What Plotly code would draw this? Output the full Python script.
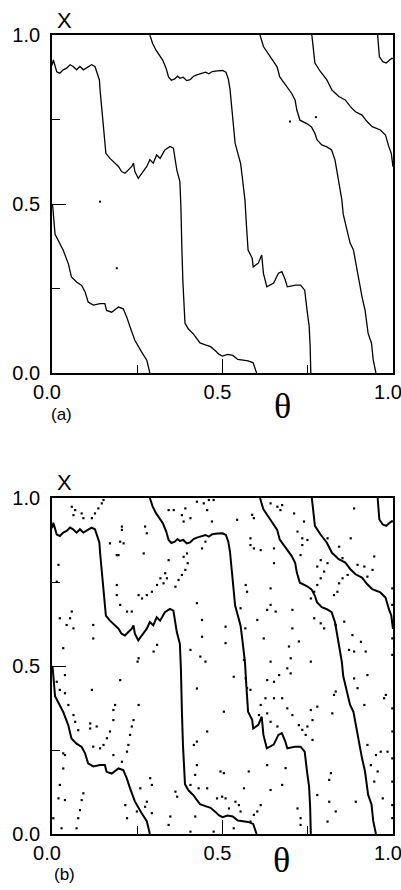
import plotly.graph_objects as go

# ---------------- data (theta, X) ----------------
A_T = [0.0, 0.004, 0.014, 0.023, 0.033, 0.043, 0.053, 0.062, 0.072, 0.082, 0.092, 0.107, 0.116, 0.126,
       0.131, 0.139, 0.141, 0.146, 0.151, 0.158, 0.17, 0.185, 0.195, 0.204, 0.214, 0.224, 0.234, 0.239,
       0.243, 0.253, 0.263, 0.278, 0.287, 0.297, 0.307, 0.317, 0.331, 0.346, 0.356, 0.366, 0.375, 0.376,
       0.378, 0.381, 0.384, 0.39, 0.40, 0.415, 0.434, 0.45, 0.465, 0.48, 0.49, 0.50, 0.515, 0.53, 0.545,
       0.56, 0.575, 0.59, 0.60]
A_X = [0.91, 0.926, 0.891, 0.887, 0.897, 0.902, 0.912, 0.907, 0.897, 0.907, 0.897, 0.907, 0.912, 0.907,
       0.891, 0.867, 0.837, 0.778, 0.709, 0.65, 0.635, 0.621, 0.611, 0.596, 0.591, 0.601, 0.611, 0.621,
       0.596, 0.576, 0.591, 0.611, 0.631, 0.621, 0.645, 0.635, 0.66, 0.67, 0.665, 0.601, 0.566, 0.512,
       0.492, 0.364, 0.266, 0.148, 0.13, 0.115, 0.089, 0.083, 0.078, 0.065, 0.055, 0.05, 0.055, 0.052,
       0.04, 0.038, 0.036, 0.03, 0.0]

B_T = [0.0, 0.002, 0.009, 0.019, 0.033, 0.048, 0.057, 0.072, 0.087, 0.097, 0.106, 0.121, 0.141, 0.155,
       0.16, 0.175, 0.195, 0.209, 0.219, 0.229, 0.243, 0.263, 0.278, 0.287]
B_X = [0.5, 0.494, 0.41, 0.392, 0.363, 0.323, 0.284, 0.269, 0.259, 0.24, 0.21, 0.201, 0.205, 0.205,
       0.185, 0.18, 0.195, 0.19, 0.166, 0.136, 0.097, 0.062, 0.038, 0.0]

C_T = [0.287, 0.295, 0.305, 0.315, 0.325, 0.335, 0.342, 0.35, 0.36, 0.368, 0.375, 0.385, 0.395, 0.405,
       0.415, 0.425, 0.44, 0.45, 0.46, 0.47, 0.485, 0.5, 0.51, 0.517, 0.522, 0.527, 0.532, 0.537, 0.545,
       0.553, 0.558, 0.562, 0.566, 0.57, 0.575, 0.587, 0.59, 0.605, 0.615, 0.62, 0.63, 0.65, 0.664,
       0.674, 0.684, 0.69, 0.714, 0.729, 0.741, 0.749, 0.754, 0.757, 0.759]
C_X = [1.0, 0.975, 0.955, 0.94, 0.925, 0.9, 0.875, 0.866, 0.87, 0.878, 0.872, 0.875, 0.865, 0.868,
       0.878, 0.882, 0.886, 0.89, 0.885, 0.892, 0.894, 0.895, 0.89, 0.87, 0.84, 0.78, 0.72, 0.68, 0.65,
       0.62, 0.58, 0.54, 0.51, 0.44, 0.364, 0.34, 0.314, 0.325, 0.349, 0.295, 0.255, 0.266, 0.295,
       0.30, 0.276, 0.255, 0.26, 0.26, 0.245, 0.177, 0.14, 0.08, 0.0]

D_T = [0.61, 0.62, 0.64, 0.66, 0.668, 0.69, 0.703, 0.713, 0.718, 0.727, 0.747, 0.761, 0.771, 0.777,
       0.791, 0.806, 0.82, 0.83, 0.84, 0.85, 0.854, 0.864, 0.874, 0.884, 0.894, 0.899, 0.909, 0.918,
       0.927, 0.937, 0.942, 0.95]
D_X = [1.0, 0.966, 0.936, 0.906, 0.876, 0.847, 0.827, 0.807, 0.778, 0.748, 0.738, 0.728, 0.709, 0.69,
       0.675, 0.669, 0.66, 0.63, 0.571, 0.512, 0.47, 0.43, 0.385, 0.364, 0.305, 0.275, 0.226, 0.186,
       0.117, 0.088, 0.039, 0.0]

E_T = [0.762, 0.767, 0.771, 0.787, 0.806, 0.821, 0.841, 0.86, 0.875, 0.89, 0.909, 0.924, 0.939, 0.963,
       0.978, 0.988, 0.995, 1.0]
E_X = [1.0, 0.956, 0.917, 0.892, 0.867, 0.837, 0.818, 0.808, 0.788, 0.773, 0.763, 0.744, 0.729, 0.719,
       0.704, 0.669, 0.65, 0.61]

F_T = [0.955, 0.957, 0.96, 0.97, 0.98, 0.99, 0.997, 1.0]
F_X = [1.0, 0.956, 0.936, 0.921, 0.917, 0.926, 0.931, 0.93]

STRAY_A_T = [0.698, 0.774, 0.19, 0.141]
STRAY_A_X = [0.744, 0.757, 0.31, 0.507]

SCAT_B_T = [
    0.058, 0.068, 0.063, 0.087, 0.092, 0.117, 0.126, 0.136, 0.146, 0.151, 0.205, 0.205, 0.2, 0.21, 0.195,
    0.17, 0.269, 0.273, 0.278, 0.342, 0.357, 0.381, 0.391, 0.386, 0.406, 0.425, 0.445, 0.455, 0.46, 0.474,
    0.469, 0.45, 0.44, 0.396, 0.386, 0.342, 0.337, 0.327, 0.254, 0.264, 0.278, 0.293, 0.308, 0.318, 0.332,
    0.362, 0.371, 0.381, 0.391, 0.398, 0.19, 0.019, 0.014, 0.058, 0.053, 0.043, 0.063, 0.023, 0.033, 0.121,
    0.121, 0.19, 0.19, 0.2, 0.22, 0.234, 0.425, 0.44, 0.44, 0.435, 0.45, 0.406, 0.308, 0.298, 0.254, 0.251,
    0.543, 0.587, 0.592, 0.641, 0.661, 0.675, 0.67, 0.71, 0.739, 0.72, 0.734, 0.651, 0.582, 0.582, 0.592,
    0.612, 0.651, 0.568, 0.572, 0.641, 0.641, 0.656, 0.631, 0.602, 0.621, 0.567, 0.553, 0.509, 0.509,
    0.563, 0.641, 0.7, 0.695, 0.705, 0.705, 0.759, 0.769, 0.778, 0.788, 0.798, 0.808, 0.788, 0.778, 0.729,
    0.734, 0.749, 0.808, 0.842, 0.876, 0.886, 0.852, 0.867, 0.852, 0.842, 0.837, 0.827, 0.832, 0.857,
    0.881, 0.871, 0.886, 0.92, 0.906, 0.925, 0.94, 0.945, 0.916, 0.896, 0.769, 0.788, 0.798, 0.759, 0.724,
    0.998, 0.998, 0.998, 0.998, 0.998,
    0.014, 0.023, 0.038, 0.038, 0.048, 0.063, 0.068, 0.2, 0.117, 0.185, 0.18, 0.18, 0.254, 0.239, 0.234,
    0.229, 0.224, 0.22, 0.112, 0.112, 0.131, 0.077, 0.17, 0.161, 0.151, 0.121, 0.141, 0.18, 0.033, 0.038,
    0.033, 0.205, 0.023, 0.019, 0.038, 0.092, 0.087, 0.082, 0.077, 0.072, 0.028, 0.004, 0.259, 0.288,
    0.293, 0.278, 0.273, 0.293, 0.215, 0.22, 0.249, 0.342, 0.347, 0.362, 0.367, 0.425, 0.455, 0.425, 0.425,
    0.42, 0.416, 0.43, 0.406, 0.455, 0.484, 0.494, 0.42, 0.406, 0.474,
    0.533, 0.568, 0.572, 0.582, 0.631, 0.651, 0.666, 0.7, 0.69, 0.651, 0.675, 0.626, 0.612, 0.607, 0.631,
    0.641, 0.661, 0.705, 0.69, 0.724, 0.734, 0.759, 0.764, 0.749, 0.744, 0.764, 0.778, 0.504, 0.504,
    0.577, 0.631, 0.685, 0.675, 0.641, 0.612, 0.602, 0.592, 0.582, 0.553, 0.563, 0.538, 0.548, 0.499,
    0.509, 0.519, 0.533, 0.72, 0.729, 0.729, 0.778, 0.818, 0.813, 0.813, 0.808, 0.832, 0.827, 0.832,
    0.822, 0.886, 0.896, 0.925, 0.916, 0.925, 0.95, 0.955, 0.945, 0.97, 0.935, 0.891, 0.964, 0.974, 0.979,
    0.984, 0.998, 0.998, 0.998, 0.998, 0.998, 0.998]
SCAT_B_X = [
    0.974, 0.964, 0.949, 0.954, 0.94, 0.94, 0.954, 0.969, 0.984, 0.994, 0.915, 0.905, 0.87, 0.865, 0.83,
    0.865, 0.835, 0.915, 0.895, 0.964, 0.964, 0.949, 0.969, 0.93, 0.94, 0.989, 0.984, 0.964, 0.994, 0.994,
    0.93, 0.87, 0.85, 0.835, 0.825, 0.815, 0.761, 0.746, 0.711, 0.701, 0.711, 0.721, 0.741, 0.761, 0.776,
    0.736, 0.756, 0.771, 0.786, 0.806, 0.83, 0.801, 0.751, 0.662, 0.642, 0.622, 0.612, 0.642, 0.553, 0.622,
    0.582, 0.741, 0.711, 0.682, 0.662, 0.662, 0.687, 0.637, 0.587, 0.528, 0.513, 0.548, 0.563, 0.543,
    0.523, 0.513,
    0.935, 0.95, 0.94, 0.984, 0.974, 0.979, 0.964, 0.954, 0.93, 0.9, 0.88, 0.85, 0.88, 0.86, 0.85, 0.845,
    0.806, 0.741, 0.721, 0.731, 0.682, 0.662, 0.667, 0.637, 0.582, 0.612, 0.672, 0.617, 0.568, 0.518,
    0.513, 0.523, 0.558, 0.612, 0.667, 0.701, 0.721, 0.741, 0.761, 0.781, 0.806, 0.815, 0.796, 0.83, 0.86,
    0.875, 0.88, 0.855, 0.88, 0.969, 0.821, 0.771, 0.761, 0.746, 0.721, 0.711, 0.622, 0.632, 0.592, 0.548,
    0.543, 0.543, 0.572, 0.766, 0.786, 0.826, 0.796, 0.801, 0.642, 0.627, 0.612, 0.513, 0.573,
    0.731, 0.682, 0.632, 0.582, 0.533,
    0.453, 0.429, 0.419, 0.473, 0.384, 0.354, 0.334, 0.458, 0.429, 0.384, 0.369, 0.339, 0.384, 0.339, 0.32,
    0.295, 0.265, 0.245, 0.329, 0.314, 0.32, 0.309, 0.305, 0.285, 0.265, 0.26, 0.255, 0.235, 0.24, 0.235,
    0.195, 0.215, 0.146, 0.106, 0.101, 0.121, 0.101, 0.071, 0.047, 0.017, 0.017, 0.047, 0.136, 0.166,
    0.146, 0.096, 0.081, 0.062, 0.086, 0.047, 0.067, 0.027, 0.052, 0.126, 0.111, 0.433, 0.305, 0.275,
    0.205, 0.176, 0.265, 0.136, 0.146, 0.136, 0.106, 0.186, 0.052, 0.007, 0.007,
    0.468, 0.463, 0.434, 0.429, 0.458, 0.453, 0.473, 0.478, 0.493, 0.404, 0.404, 0.404, 0.384, 0.354,
    0.359, 0.334, 0.32, 0.354, 0.374, 0.324, 0.31, 0.369, 0.339, 0.32, 0.295, 0.28, 0.379, 0.364, 0.181,
    0.186, 0.205, 0.196, 0.146, 0.131, 0.086, 0.067, 0.057, 0.037, 0.067, 0.136, 0.096, 0.086, 0.111,
    0.106, 0.076, 0.017, 0.076, 0.047, 0.027, 0.116, 0.181, 0.161, 0.096, 0.037, 0.067, 0.414, 0.424,
    0.359, 0.463, 0.434, 0.473, 0.384, 0.265, 0.235, 0.186, 0.156, 0.106, 0.205, 0.096, 0.245, 0.404,
    0.414, 0.245, 0.374, 0.305, 0.225, 0.156, 0.086, 0.047]

TICK_VALS = [0.0, 0.5, 1.0]
TICK_TEXT = ["0.0", "0.5", "1.0"]

CURVES = [(A_T, A_X), (B_T, B_X), (C_T, C_X), (D_T, D_X), (E_T, E_X), (F_T, F_X)]

# ---------------- figure ----------------
fig = go.Figure()

for t, x in CURVES:
    fig.add_trace(go.Scatter(x=t, y=x, mode="lines", line=dict(color="black", width=1.3),
                             xaxis="x", yaxis="y", showlegend=False, hoverinfo="skip"))
fig.add_trace(go.Scatter(x=STRAY_A_T, y=STRAY_A_X, mode="markers",
                         marker=dict(color="black", size=2, symbol="square"),
                         xaxis="x", yaxis="y", showlegend=False, hoverinfo="skip"))

for t, x in CURVES:
    fig.add_trace(go.Scatter(x=t, y=x, mode="lines", line=dict(color="black", width=2.0),
                             xaxis="x2", yaxis="y2", showlegend=False, hoverinfo="skip"))
fig.add_trace(go.Scatter(x=SCAT_B_T, y=SCAT_B_X, mode="markers",
                         marker=dict(color="black", size=2.2, symbol="square"),
                         xaxis="x2", yaxis="y2", showlegend=False, hoverinfo="skip"))

W, H = 401, 890
L, R = 52, 393
TA, BA = 35, 373
TB, BB = 498, 834

tickfont = dict(family="Liberation Sans, Arial, sans-serif", size=20, color="black")


def axis_style(domain, anchor):
    return dict(domain=domain, anchor=anchor, range=[0, 1], showgrid=False, zeroline=False,
                automargin=False, ticklabeloverflow="allow",
                showline=True, linecolor="black", linewidth=1.8, mirror=True,
                ticks="inside", ticklen=14, tickwidth=1.4, tickcolor="black",
                tickvals=TICK_VALS, ticktext=TICK_TEXT, tickfont=tickfont,
                minor=dict(tickvals=[0.25, 0.75], ticklen=8, tickwidth=1.4, tickcolor="black",
                           ticks="inside", showgrid=False),
                fixedrange=True)


xdom = [L / W, R / W]
fig.update_layout(
    width=W, height=H, margin=dict(l=0, r=0, t=0, b=0),
    paper_bgcolor="white", plot_bgcolor="white",
    xaxis=dict(axis_style(xdom, "y"), ticklabelstandoff=0, ticklabelshift=-5),
    yaxis=dict(axis_style([1 - BA / H, 1 - TA / H], "x"), ticklabelstandoff=6),
    xaxis2=dict(axis_style(xdom, "y2"), ticklabelstandoff=0, ticklabelshift=-5),
    yaxis2=dict(axis_style([1 - BB / H, 1 - TB / H], "x2"), ticklabelstandoff=6),
)

sans = "Liberation Sans, Arial, sans-serif"
serif = "Liberation Serif, Times New Roman, serif"
ann = [
    dict(text="X", x=64.5 / W, y=1 - 20 / H, font=dict(family=sans, size=22)),
    dict(text="X", x=64.5 / W, y=1 - 482.5 / H, font=dict(family=sans, size=22)),
    dict(text="θ", x=282 / W, y=1 - 406 / H, font=dict(family=serif, size=36)),
    dict(text="θ", x=281 / W, y=1 - 859.5 / H, font=dict(family=serif, size=36)),
    dict(text="(a)", x=61.5 / W, y=1 - 415 / H, font=dict(family=sans, size=17)),
    dict(text="(b)", x=64 / W, y=1 - 874 / H, font=dict(family=sans, size=17)),
]
for a in ann:
    a.update(xref="paper", yref="paper", showarrow=False, xanchor="center", yanchor="middle")
    a["font"]["color"] = "black"
fig.update_layout(annotations=ann)

fig.write_html("out.html")
